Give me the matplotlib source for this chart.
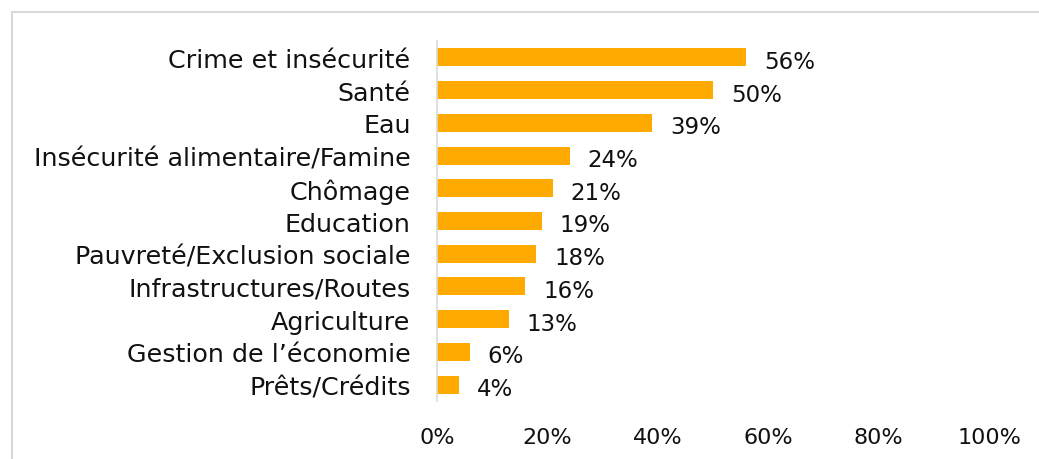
import matplotlib.pyplot as plt
from matplotlib.patches import Rectangle

categories = ['Crime et insécurité', 'Santé', 'Eau', 'Insécurité alimentaire/Famine',
              'Chômage', 'Education', 'Pauvreté/Exclusion sociale', 'Infrastructures/Routes',
              'Agriculture', 'Gestion de l\u2019économie', 'Prêts/Crédits']
values = [56, 50, 39, 24, 21, 19, 18, 16, 13, 6, 4]
xticks = [0, 20, 40, 60, 80, 100]

plt.rcParams['font.family'] = ['DejaVu Sans']

fig = plt.figure(figsize=(10.39, 4.6), dpi=100)
ax = fig.add_axes([0.4206, 0.126, 0.5314, 0.7827])

ypos = range(len(categories))
ax.barh(ypos, values, height=0.55, color='#FFAA00')
for y, v in zip(ypos, values):
    ax.text(v + 3.2, y + 0.12, f'{v}%', va='center', ha='left', fontsize=16.5, color='#111111')

ax.set_ylim(len(categories) - 0.5, -0.5)
ax.set_xlim(0, 100)
ax.set_yticks(list(ypos))
ax.set_yticklabels(categories, fontsize=18.3, color='#111111')
ax.set_xticks(xticks)
ax.set_xticklabels([f'{t}%' for t in xticks], fontsize=16, color='#111111')
ax.tick_params(axis='both', length=0)
ax.tick_params(axis='y', pad=19)
ax.tick_params(axis='x', pad=19)
for s in ['top', 'right', 'bottom']:
    ax.spines[s].set_visible(False)
ax.spines['left'].set_color('#D9D9D9')
ax.spines['left'].set_linewidth(1.2)

# outer chart frame (cut off at right and bottom)
fig.add_artist(Rectangle((12 / 1039, -0.05), 1.2, 1 - 13 / 460 + 0.05, transform=fig.transFigure,
                         fill=False, edgecolor='#D9D9D9', linewidth=1.5))

fig.savefig('out.png', dpi=100)
